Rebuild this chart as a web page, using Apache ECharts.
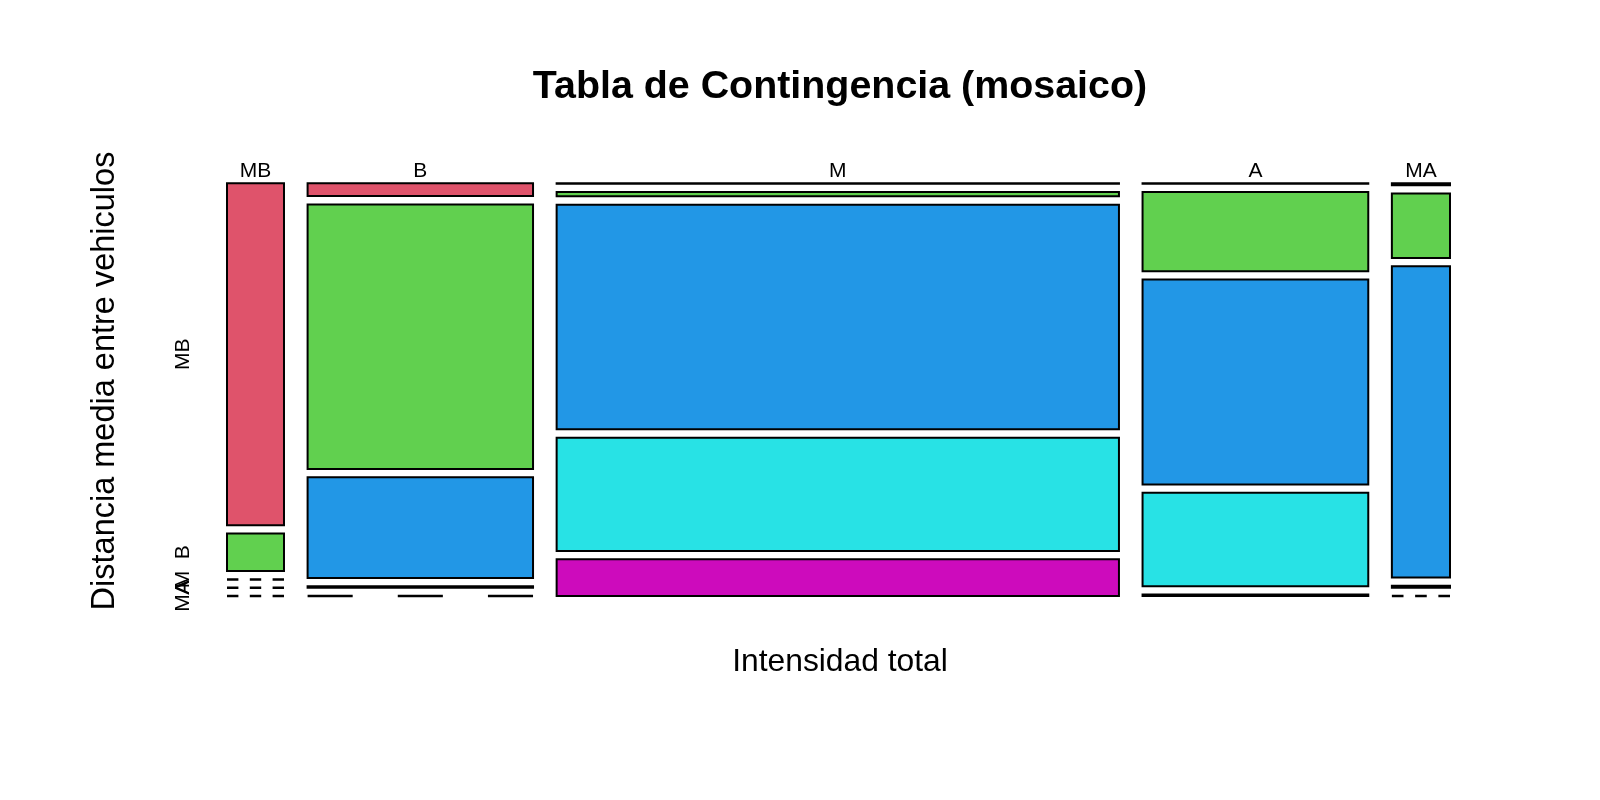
<!DOCTYPE html>
<html><head><meta charset="utf-8">
<script src="https://cdn.jsdelivr.net/npm/echarts@6/dist/echarts.min.js"></script>
<style>html,body{margin:0;padding:0;background:#fff}#c{width:1600px;height:800px}</style>
</head><body><div id="c"></div>
<script>
// Categories
const colCategories = ['MB', 'B', 'M', 'A', 'MA'];   // Intensidad total
const rowCategories = ['MB', 'B', 'M', 'A', 'MA'];   // Distancia media entre vehiculos
// Counts per column (Intensidad total), rows in order of rowCategories
const countsColMB = [182, 20, 0, 0, 0];
const countsColB  = [27, 557, 212, 3, 0];
const countsColM  = [2, 23, 1180, 595, 193];
const countsColA  = [1, 167, 432, 197, 3];
const countsColMA = [1, 35, 169, 1, 0];
const rowColors = ['#DF536B', '#61D04F', '#2297E6', '#28E2E5', '#CD0BBC'];
const titleText = 'Tabla de Contingencia (mosaico)';
const xTitle = 'Intensidad total';
const yTitle = 'Distancia media entre vehiculos';

const table = [countsColMB, countsColB, countsColM, countsColA, countsColMA];
const GX = 0.0193, GY = 0.0201;
const colTotals = table.map(c => c.reduce((a, b) => a + b, 0));
const N = colTotals.reduce((a, b) => a + b, 0);
const cells = [];
const colCenters = [];
const rowCenters = [];
let xc = 0;
table.forEach((col, i) => {
  const w = (1 - GX * (table.length - 1)) * colTotals[i] / N;
  let yc = 0;
  col.forEach((v, j) => {
    const h = (1 - GY * (col.length - 1)) * v / colTotals[i];
    cells.push([i, j, v, xc, xc + w, yc, yc + h]);
    if (i === 0) rowCenters.push([j, yc + h / 2]);
    yc += h + GY;
  });
  colCenters.push([i, xc + w / 2]);
  xc += w + GX;
});

const FONT = "'Liberation Sans', Arial, sans-serif";
const chart = echarts.init(document.getElementById('c'));
chart.setOption({
  animation: false,
  backgroundColor: '#fff',
  grid: { left: 227, right: 150, top: 183.3, bottom: 204 },
  xAxis: { type: 'value', min: 0, max: 1, show: false },
  yAxis: { type: 'value', min: 0, max: 1, inverse: true, show: false },
  graphic: [
    { type: 'text', x: 840, y: 87, style: { text: titleText, font: 'bold 39.4px ' + FONT, fill: '#000', align: 'center', verticalAlign: 'middle' } },
    { type: 'text', x: 840, y: 662, style: { text: xTitle, font: '31.8px ' + FONT, fill: '#000', align: 'center', verticalAlign: 'middle' } },
    { type: 'text', x: 105, y: 381, rotation: Math.PI / 2, style: { text: yTitle, font: '32.5px ' + FONT, fill: '#000', align: 'center', verticalAlign: 'middle' } }
  ],
  series: [
    {
      type: 'custom',
      data: cells,
      encode: { x: [3, 4], y: [5, 6] },
      renderItem: function (params, api) {
        const j = api.value(1), v = api.value(2);
        const p0 = api.coord([api.value(3), api.value(5)]);
        const p1 = api.coord([api.value(4), api.value(6)]);
        const w = p1[0] - p0[0];
        if (v === 0) {
          return { type: 'line', shape: { x1: p0[0], y1: p0[1], x2: p1[0], y2: p0[1] },
            style: { stroke: '#000', lineWidth: 2.5, lineDash: [w / 5, w / 5] } };
        }
        return { type: 'rect', shape: { x: p0[0], y: p0[1], width: w, height: p1[1] - p0[1] },
          style: { fill: rowColors[j], stroke: '#000', lineWidth: 2 } };
      }
    },
    {
      type: 'custom',
      data: colCenters,
      renderItem: function (params, api) {
        const p = api.coord([api.value(1), 0]);
        return { type: 'text', x: p[0], y: p[1] - 12,
          style: { text: colCategories[api.value(0)], font: '21px ' + FONT, fill: '#000', align: 'center', verticalAlign: 'middle' } };
      }
    },
    {
      type: 'custom',
      data: rowCenters,
      renderItem: function (params, api) {
        const p = api.coord([0, api.value(1)]);
        return { type: 'text', x: p[0] - 43.5, y: p[1], rotation: Math.PI / 2,
          style: { text: rowCategories[api.value(0)], font: '21px ' + FONT, fill: '#000', align: 'center', verticalAlign: 'middle' } };
      }
    }
  ]
});
</script></body></html>
